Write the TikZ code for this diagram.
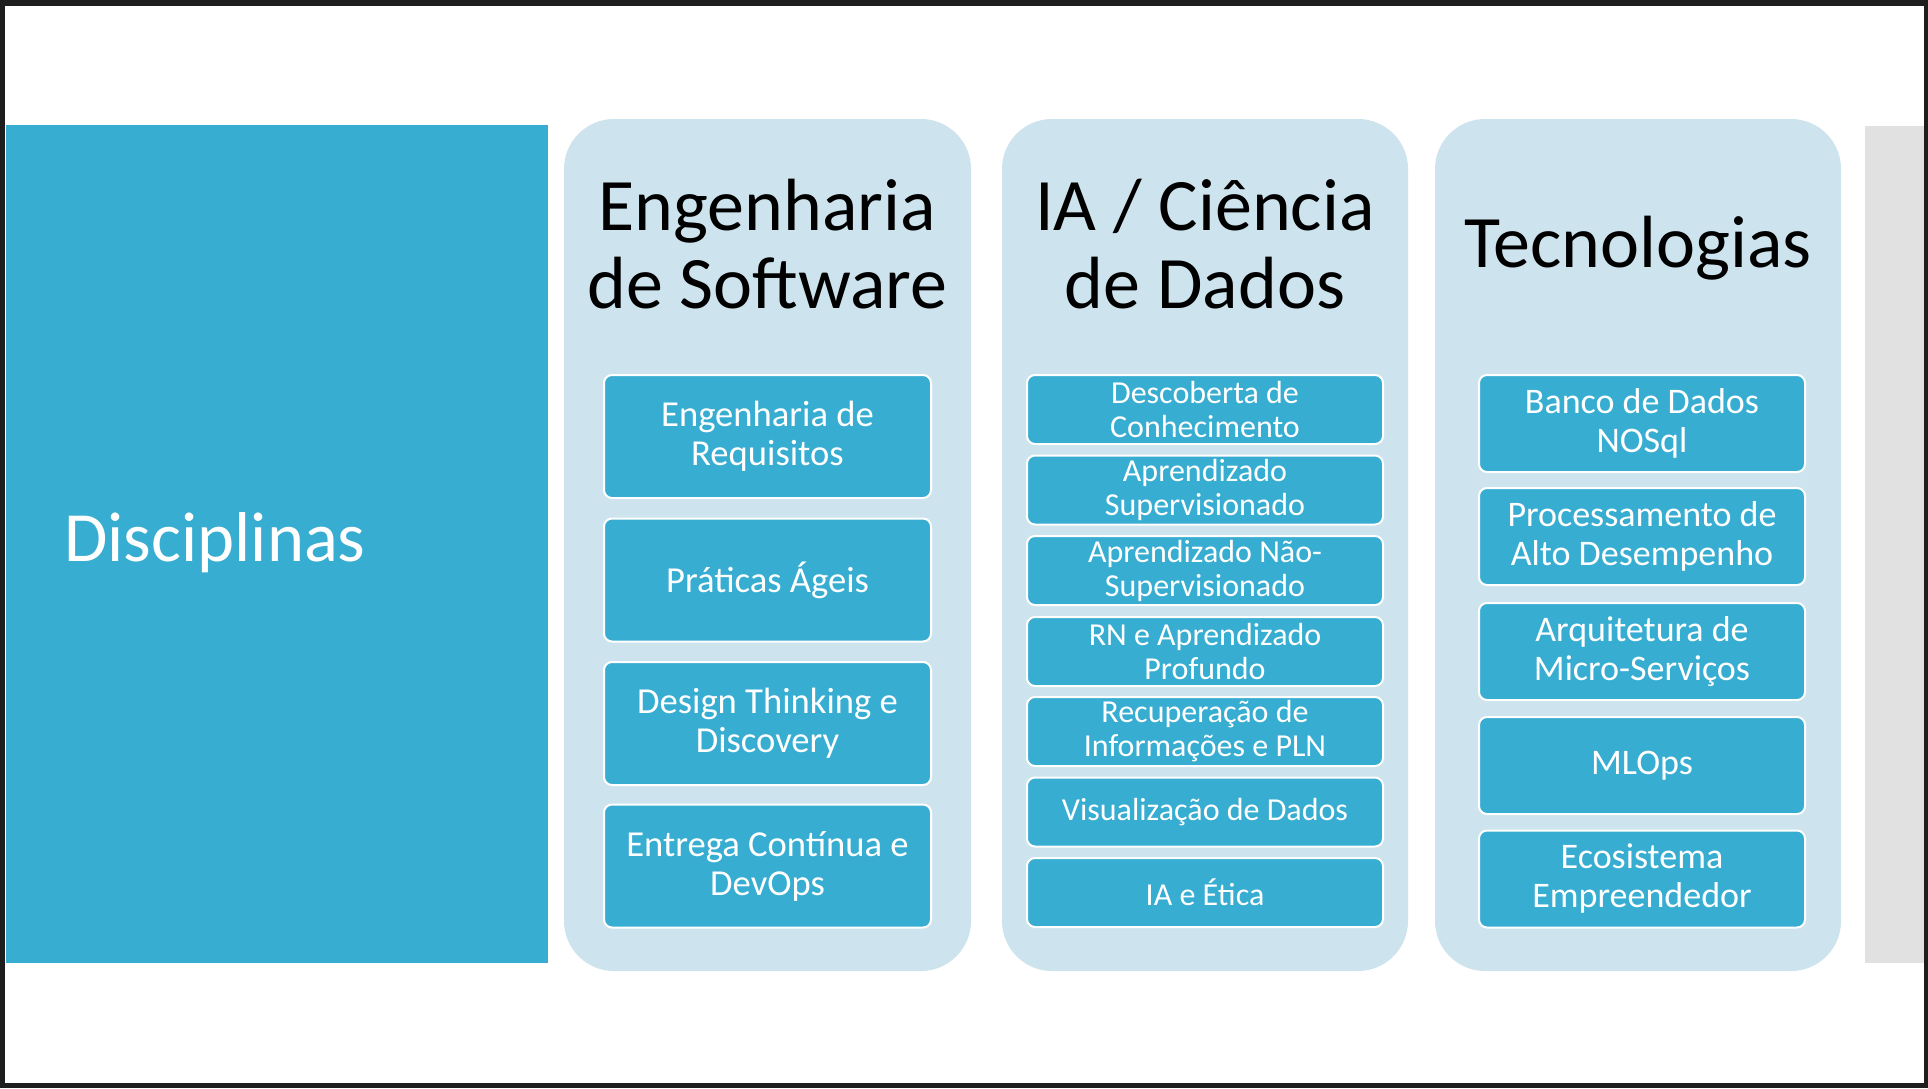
\documentclass[tikz,border=0pt]{standalone}
\usepackage{fontspec}
\setmainfont{Carlito}
\definecolor{framegray}{RGB}{30,30,30}
\definecolor{tealblue}{RGB}{55,173,209}
\definecolor{panelblue}{RGB}{205,228,238}
\definecolor{sidegray}{RGB}{225,225,225}
\begin{document}
\begin{tikzpicture}[x=0.5pt,y=-0.5pt,
  panel/.style={fill=panelblue, rounded corners=25pt},
  heading/.style={text=black, align=center, inner sep=0pt,
    font=\fontsize{37}{39}\selectfont},
  itembox/.style={draw=white, line width=1pt, fill=tealblue, rounded corners=4pt,
    text=white, align=center, inner sep=0pt},
  itemA/.style={itembox, minimum width=163.5pt, minimum height=61.5pt,
    font=\fontsize{18.3}{19.5}\selectfont},
  itemB/.style={itembox, minimum width=178pt, minimum height=34.5pt,
    font=\fontsize{16}{17}\selectfont},
  itemC/.style={itembox, minimum width=163pt, minimum height=48.5pt,
    font=\fontsize{18}{19.5}\selectfont}]
% window frame and slide
\fill[framegray] (0,0) rectangle (1928,1088);
\fill[white] (5,6) rectangle (1924,1083);
\useasboundingbox (0,0) rectangle (1928,1088);

% left title band and right edge band
\fill[tealblue] (6,125) rectangle (548,963);
\fill[sidegray] (1865,126) rectangle (1924,963);
\node[anchor=west, text=white, inner sep=0pt, font=\fontsize{35.3}{40}\selectfont] (disc) at (64,543) {Disciplinas};

% column panels
\fill[panel] (564,119) rectangle (971,971);
\fill[panel] (1002,119) rectangle (1408,971);
\fill[panel] (1435,119) rectangle (1841,971);

% column headings
\node[heading] (h1) at (767.5,244) {Engenharia\\de Software};
\node[heading] (h2) at (1205,244) {IA / Ciência\\de Dados};
\node[heading] (h3) at (1638,248) {Tecnologias};

% Engenharia de Software
\node[itemA] (a1) at (767.5,436.5) {Engenharia de\\Requisitos};
\node[itemA] (a2) at (767.5,580) {Práticas Ágeis};
\node[itemA] (a3) at (767.5,723.5) {Design Thinking e\\Discovery};
\node[itemA] (a4) at (767.5,866) {Entrega Contínua e\\DevOps};

% IA / Ciência de Dados
\node[itemB] (b1) at (1205,409.5) {Descoberta de\\Conhecimento};
\node[itemB] (b2) at (1205,490) {Aprendizado\\Supervisionado};
\node[itemB] (b3) at (1205,570.5) {Aprendizado Não-\\Supervisionado};
\node[itemB] (b4) at (1205,651.5) {RN e Aprendizado\\Profundo};
\node[itemB] (b5) at (1205,731.5) {Recuperação de\\Informações e PLN};
\node[itemB] (b6) at (1205,812) {Visualização de Dados};
\node[itemB] (b7) at (1205,892.5) {IA e Ética};

% Tecnologias
\node[itemC] (c1) at (1642,423.5) {Banco de Dados\\NOSql};
\node[itemC] (c2) at (1642,536.5) {Processamento de\\Alto Desempenho};
\node[itemC] (c3) at (1642,651.5) {Arquitetura de\\Micro-Serviços};
\node[itemC] (c4) at (1642,765.5) {MLOps};
\node[itemC] (c5) at (1642,879) {Ecosistema\\Empreendedor};
\end{tikzpicture}
\end{document}
